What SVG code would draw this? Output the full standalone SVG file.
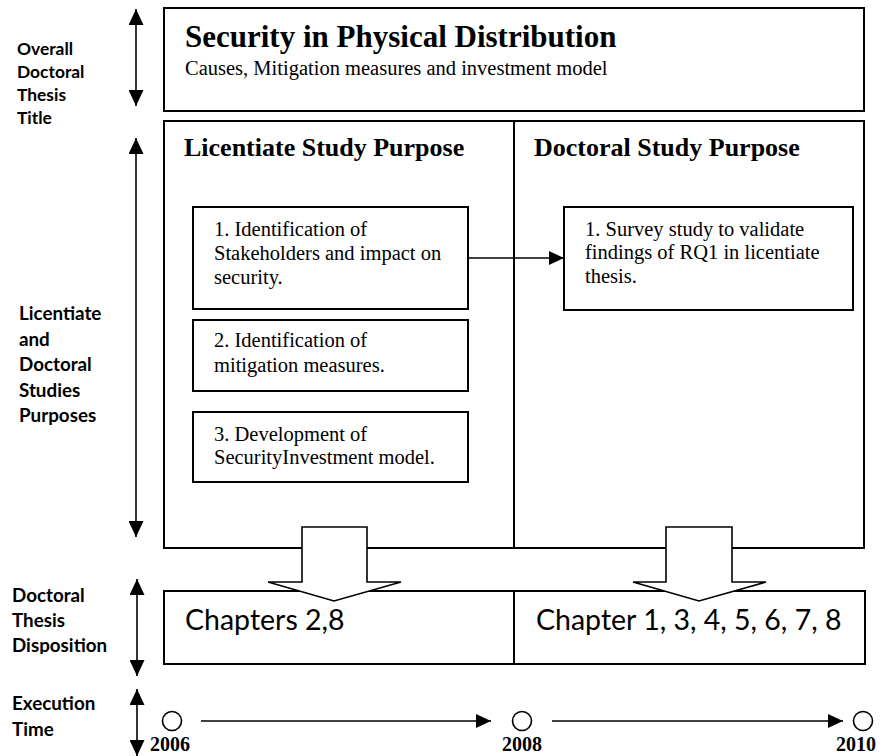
<svg xmlns="http://www.w3.org/2000/svg" width="883" height="756" viewBox="0 0 883 756">
  <style>
    .frame{fill:#fff;stroke:#000;stroke-width:2}
    .inner{fill:#fff;stroke:#000;stroke-width:2}
    .line{fill:none;stroke:#000;stroke-width:1.6}
    .block{fill:#fff;stroke:#000;stroke-width:1.6;stroke-linejoin:miter}
    .dot{fill:#fff;stroke:#000;stroke-width:1.6}
    .side{font-family:Lato,"Open Sans",sans-serif;font-weight:bold;font-size:18.8px;fill:#000}
    .side1{font-size:17.4px}
    .head{font-family:"Liberation Serif","Times New Roman",serif;font-weight:bold;font-size:26px;fill:#000}
    .body{font-family:"Liberation Serif","Times New Roman",serif;font-size:20.5px;fill:#000}
    .chap{font-family:Lato,"Open Sans",sans-serif;font-size:28.5px;fill:#000}
    .year{font-family:"Liberation Serif","Times New Roman",serif;font-weight:bold;font-size:20px;fill:#000}
  </style>
  <defs>
    <marker id="tip" viewBox="0 0 16 15" refX="16" refY="7.5" markerWidth="16" markerHeight="15" markerUnits="userSpaceOnUse" orient="auto-start-reverse">
      <path d="M0,0 L16,7.5 L0,15 Z" fill="#000"/>
    </marker>
    <marker id="tipS" viewBox="0 0 15 14" refX="15" refY="7" markerWidth="15" markerHeight="14" markerUnits="userSpaceOnUse" orient="auto">
      <path d="M0,0 L15,7 L0,14 Z" fill="#000"/>
    </marker>
    <clipPath id="cutBottom">
      <rect x="0" y="560" width="160" height="94"/>
    </clipPath>
  </defs>

  <!-- row labels on the left -->
  <g id="label-title">
    <text class="side side1" x="17" y="55">Overall</text>
    <text class="side side1" x="17" y="78">Doctoral</text>
    <text class="side side1" x="17" y="101">Thesis</text>
    <text class="side side1" x="17" y="124">Title</text>
  </g>
  <g id="label-purposes">
    <text class="side" x="19" y="320">Licentiate</text>
    <text class="side" x="19" y="345.5">and</text>
    <text class="side" x="19" y="371">Doctoral</text>
    <text class="side" x="19" y="396.5">Studies</text>
    <text class="side" x="19" y="422">Purposes</text>
  </g>
  <g id="label-disposition" clip-path="url(#cutBottom)">
    <text class="side" x="12" y="602">Doctoral</text>
    <text class="side" x="12" y="627">Thesis</text>
    <text class="side" x="12" y="652">Disposition</text>
  </g>
  <g id="label-time">
    <text class="side" x="12" y="710">Execution</text>
    <text class="side" x="12" y="736">Time</text>
  </g>

  <!-- thesis title -->
  <g id="title">
    <rect class="frame" x="164" y="8" width="700" height="103"/>
    <text class="head" x="185" y="47" style="font-size:31px">Security in Physical Distribution</text>
    <text class="body" x="185" y="75">Causes, Mitigation measures and investment model</text>
  </g>

  <!-- study purposes -->
  <g id="purposes">
    <rect class="frame" x="164" y="121" width="700" height="427"/>
    <line class="line" x1="514" y1="121" x2="514" y2="548" style="stroke-width:2"/>
    <text class="head" x="184" y="156">Licentiate Study Purpose</text>
    <text class="head" x="534" y="156">Doctoral Study Purpose</text>
  </g>

  <g id="lic-1">
    <rect class="inner" x="193" y="207" width="275" height="102"/>
    <text class="body" x="214" y="236">1. Identification of</text>
    <text class="body" x="214" y="260">Stakeholders and impact on</text>
    <text class="body" x="214" y="284">security.</text>
  </g>
  <g id="lic-2">
    <rect class="inner" x="193" y="320" width="275" height="71"/>
    <text class="body" x="214" y="347">2. Identification of</text>
    <text class="body" x="214" y="372">mitigation measures.</text>
  </g>
  <g id="lic-3">
    <rect class="inner" x="193" y="412" width="275" height="70"/>
    <text class="body" x="214" y="441">3. Development of</text>
    <text class="body" x="214" y="464">SecurityInvestment model.</text>
  </g>
  <g id="doc-1">
    <rect class="inner" x="564" y="207" width="289" height="103"/>
    <text class="body" x="585" y="236">1. Survey study to validate</text>
    <text class="body" x="585" y="259">findings of RQ1 in licentiate</text>
    <text class="body" x="585" y="283">thesis.</text>
  </g>

  <!-- thesis disposition -->
  <g id="disposition">
    <rect class="frame" x="164" y="591" width="701" height="73"/>
    <line class="line" x1="514" y1="591" x2="514" y2="664" style="stroke-width:2"/>
    <text class="chap" x="185" y="630">Chapters 2,8</text>
    <text class="chap" x="536" y="630">Chapter 1, 3, 4, 5, 6, 7, 8</text>
  </g>

  <!-- execution timeline -->
  <g id="t2006">
    <circle class="dot" cx="172" cy="721" r="9.5"/>
    <text class="year" x="150" y="751">2006</text>
  </g>
  <g id="t2008">
    <circle class="dot" cx="522" cy="721" r="9.5"/>
    <text class="year" x="502" y="751">2008</text>
  </g>
  <g id="t2010">
    <circle class="dot" cx="863" cy="721" r="9.5"/>
    <text class="year" x="836" y="751">2010</text>
  </g>

  <!-- connectors -->
  <g id="connectors">
    <line class="line" x1="136" y1="9" x2="136" y2="106" marker-start="url(#tip)" marker-end="url(#tip)"/>
    <line class="line" x1="136" y1="138" x2="136" y2="537" marker-start="url(#tip)" marker-end="url(#tip)"/>
    <line class="line" x1="137" y1="579" x2="137" y2="676" marker-start="url(#tip)" marker-end="url(#tip)"/>
    <line class="line" x1="137" y1="689" x2="137" y2="756" marker-start="url(#tip)" marker-end="url(#tip)"/>
    <line class="line" x1="468" y1="258" x2="564" y2="258" marker-end="url(#tipS)"/>
    <path class="block" d="M302,527 H367 V582 H401 L334,601 L268,582 H302 Z"/>
    <path class="block" d="M666,527 H732 V582 H766 L699,601 L633,582 H666 Z"/>
    <line class="line" x1="201" y1="721" x2="491" y2="721" marker-end="url(#tipS)"/>
    <line class="line" x1="552" y1="721" x2="843" y2="721" marker-end="url(#tipS)"/>
  </g>
</svg>
